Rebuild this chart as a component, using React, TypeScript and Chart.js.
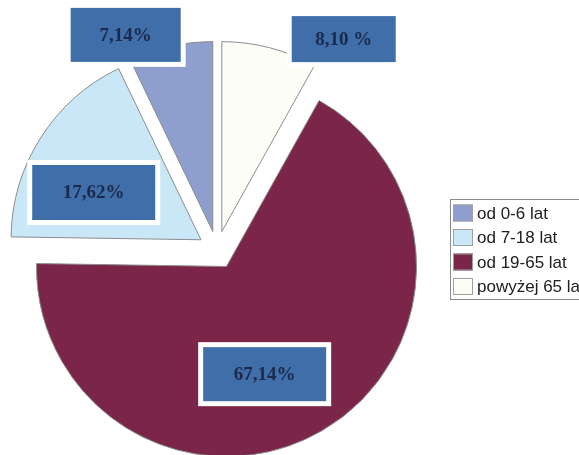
import { useEffect, useRef } from 'react';
import { Chart, registerables } from 'chart.js';

Chart.register(...registerables);

// Legend order (as printed in the legend box)
const categories = ['od 0-6 lat', 'od 7-18 lat', 'od 19-65 lat', 'powyżej 65 lat'];
const shares = [7.14, 17.62, 67.14, 8.10];
const shareLabels = ['7,14%', '17,62%', '67,14%', '8,10 %'];
const sliceColors = ['#8e9fcf', '#c9e7f6', '#7b2548', '#fdfdf7'];

// Label placement: polar position relative to the pie centre
// (degrees clockwise from 12 o'clock, fraction of the outer radius) and box size
const labelAngles = [337, 295, 159, 31];
const labelRadii = [1.23, 0.716, 0.70, 1.295];
const labelBoxW = [110, 123, 123, 104];
const labelBoxH = [54, 55, 54, 46];

const EXPLODE = 19; // px each slice is pulled out of the centre
const PIE_RADIUS = 190;

// Pull every slice out along its own mid angle, keeping the same radius for all
const explodePlugin = {
  id: 'explodeSlices',
  afterDatasetUpdate(chart: any, args: any) {
    const arcs = args.meta.data;
    for (const arc of arcs) {
      const mid = (arc.startAngle + arc.endAngle) / 2;
      arc.x += Math.cos(mid) * EXPLODE;
      arc.y += Math.sin(mid) * EXPLODE;
    }
  },
};

const labelPlugin = {
  id: 'shareLabels',
  afterDatasetsDraw(chart: any) {
    const meta = chart.getDatasetMeta(0);
    const arc = meta.data[0];
    if (!arc) return;
    const area = chart.chartArea;
    const cx = (area.left + area.right) / 2;
    const cy = (area.top + area.bottom) / 2;
    const R = arc.outerRadius;
    const ctx = chart.ctx;
    ctx.save();
    for (let i = 0; i < shareLabels.length; i++) {
      const a = ((labelAngles[i] - 90) * Math.PI) / 180;
      const x = cx + Math.cos(a) * R * labelRadii[i];
      const y = cy + Math.sin(a) * R * labelRadii[i];
      const w = labelBoxW[i];
      const h = labelBoxH[i];
      const b = 5;
      ctx.fillStyle = '#ffffff';
      ctx.fillRect(x - w / 2 - b, y - h / 2 - b, w + 2 * b, h + 2 * b);
      ctx.fillStyle = '#3f6ea8';
      ctx.fillRect(x - w / 2, y - h / 2, w, h);
      ctx.fillStyle = '#1b2a4c';
      ctx.font = 'bold 19px "Liberation Serif", "Times New Roman", serif';
      ctx.textAlign = 'center';
      ctx.textBaseline = 'middle';
      ctx.fillText(shareLabels[i], x, y + 1);
    }
    ctx.restore();
  },
};

const legendPlugin = {
  id: 'boxLegend',
  afterDraw(chart: any) {
    const ctx = chart.ctx;
    const left = 450;
    const top = 199;
    const rowGap = 24.5;
    ctx.save();
    ctx.strokeStyle = '#8a8a8a';
    ctx.lineWidth = 1;
    ctx.strokeRect(left + 0.5, top + 0.5, 200, 100);
    ctx.font = '17px "Liberation Sans", Arial, sans-serif';
    ctx.textBaseline = 'middle';
    ctx.textAlign = 'left';
    for (let i = 0; i < categories.length; i++) {
      const yc = top + 14 + i * rowGap;
      ctx.fillStyle = sliceColors[i];
      ctx.fillRect(left + 3, yc - 8.5, 20, 17);
      ctx.strokeStyle = '#a0a0a0';
      ctx.strokeRect(left + 3.5, yc - 8, 19, 16);
      ctx.fillStyle = '#202020';
      ctx.fillText(categories[i], left + 27, yc + 1);
    }
    ctx.restore();
  },
};

export default function App() {
  const ref = useRef<HTMLCanvasElement>(null);

  useEffect(() => {
    if (!ref.current) return;
    // Clockwise from 12 o'clock the slices run in reverse legend order
    const order = categories.map((_, i) => categories.length - 1 - i);
    const chart = new Chart(ref.current, {
      type: 'pie',
      data: {
        labels: order.map((i) => categories[i]),
        datasets: [
          {
            data: order.map((i) => shares[i]),
            backgroundColor: order.map((i) => sliceColors[i]),
            borderColor: '#8c8c8c',
            borderWidth: 1,
            hoverBorderWidth: 1,
            offset: 0,
            hoverOffset: 0,
            radius: PIE_RADIUS,
            borderJoinStyle: 'miter',
          } as any,
        ],
      },
      options: {
        responsive: false,
        animation: false,
        devicePixelRatio: 1,
        layout: { padding: { left: 17, right: 162, top: 50, bottom: 5 } },
        plugins: {
          legend: { display: false },
          tooltip: { enabled: false },
          title: { display: false },
        },
        events: [],
      },
      plugins: [explodePlugin, labelPlugin, legendPlugin],
    });
    return () => chart.destroy();
  }, []);

  return (
    <div
      style={{
        position: 'fixed',
        left: 0,
        top: 0,
        width: 579,
        height: 455,
        overflow: 'hidden',
        background: '#ffffff',
      }}
    >
      <canvas ref={ref} width={579} height={455} style={{ display: 'block' }} />
    </div>
  );
}
